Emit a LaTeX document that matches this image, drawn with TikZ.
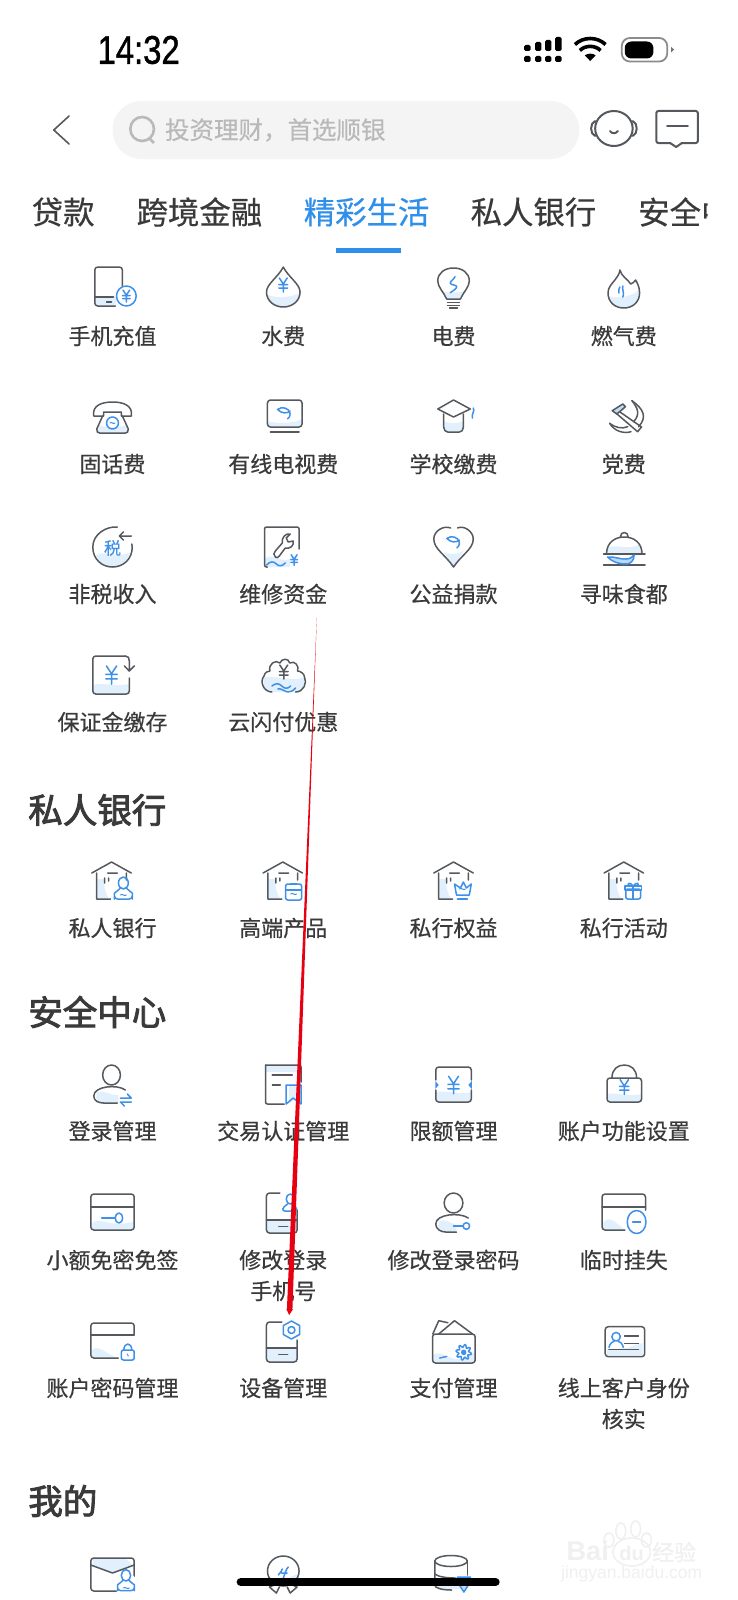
\documentclass[tikz,border=0pt]{standalone}
\usepackage{fontspec}
\setmainfont[FakeBold=0.5]{Noto Sans CJK SC}
\newfontfamily\headf[FakeBold=2.5]{Noto Sans CJK SC}
\newfontfamily\clockf[FakeBold=1.2]{Liberation Sans}
\newfontfamily\markf{Liberation Sans}
\usetikzlibrary{calc}
\definecolor{icgray}{HTML}{55595E}
\definecolor{icblue}{HTML}{3F90E8}
\definecolor{wave}{HTML}{E1F0FC}
\definecolor{txt}{HTML}{3A3A3A}
\definecolor{tabblue}{HTML}{2F8FEA}
\definecolor{hint}{HTML}{B9B9B9}
\definecolor{wmark}{HTML}{F0F0F0}
\definecolor{arrowred}{HTML}{E60012}
\tikzset{
 ic/.style={draw=icgray,line width=1.5pt,line cap=round,line join=round,fill=none},
 bl/.style={draw=icblue,line width=1.5pt,line cap=round,line join=round,fill=none},
 wv/.style={fill=wave,draw=none},
 lab/.style={inner sep=0pt,text=txt,font=\fontsize{22}{24}\selectfont},
 tabt/.style={inner sep=0pt,text=txt,font=\fontsize{31.4}{34}\selectfont},
 headt/.style={inner sep=0pt,anchor=west,text=txt,font=\headf\fontsize{34.5}{38}\selectfont},
}
\newcommand{\icn}[3]{\begin{scope}[shift={(#1,#2)}]#3\end{scope}}
\newcommand{\yenm}[4]{\begin{scope}[shift={(#1,#2)},scale=#3]
 \draw[#4] (-4,-7)--(0,-1)--(4,-7) (0,-1)--(0,7) (-4.5,-.5)--(4.5,-.5) (-4.5,3)--(4.5,3);\end{scope}}
\newcommand{\fishm}[3]{\begin{scope}[shift={(#1,#2)},scale=#3]
 \draw[bl] (-8,-3) .. controls (-3,-7) and (6,-5) .. (7,2) .. controls (7,5) and (6,7) .. (4,8)
 (-8,-3) .. controls (-3,2) and (3,2) .. (7,-1);\end{scope}}
\newcommand{\housem}{
 \fill[wv] (-15,-2) -- (-8,-2) .. controls (-7,8) and (-6,14) .. (-2,18) -- (-15,18) -- cycle;
 \draw[ic] (-20,-8)--(0,-19)--(20,-8) (-15,-8)--(-15,18)--(-1,18) (15,-8)--(15,-1) (-4,-8)--(6,-8) (-7,-3)--(-7,2) (-3,-3)--(-3,0);
}
\newcommand{\personb}[3]{\begin{scope}[shift={(#1,#2)},scale=#3]
 \draw[bl] (0,-7) ellipse [x radius=5,y radius=6];
 \draw[bl,rounded corners=3pt] (-3,-2) .. controls (-6,1) and (-9,3) .. (-9,6) -- (-9,9) -- (9,9) -- (9,6) .. controls (9,3) and (6,1) .. (3,-2);
 \end{scope}}
\begin{document}
\begin{tikzpicture}[x=0.987pt,y=-1pt]
\useasboundingbox (0,0) rectangle (747.72,1600);
\fill[white] (0,0) rectangle (747.72,1600);

% ---- status bar
\node[inner sep=0pt,xscale=.82,text=black,font=\clockf\fontsize{40}{42}\selectfont] (clock) at (140.5,50) {14:32};
\foreach \c/\t in {534.3/45,545.3/42,555.5/40,565.7/37}{
 \fill[black,rounded corners=1.5pt] (\c-3.2,\t) rectangle (\c+3.2,51);
 \fill[black,rounded corners=1.5pt] (\c-3.2,56) rectangle (\c+3.2,62);
}
\fill[black] (598,61) -- (592.5,55.5) .. controls (595,53) and (601,53) .. (603.5,55.5) -- cycle;
\draw[black,line width=3.6pt] (587.5,50.5) .. controls (593,45) and (603,45) .. (608.5,50.5);
\draw[black,line width=3.6pt] (582.5,44.5) .. controls (591,36.5) and (605,36.5) .. (613.5,44.5);
\draw[draw=black!45,line width=1.8pt,rounded corners=8pt] (630,38) rectangle (676,61.5);
\fill[black,rounded corners=6.5pt] (633,41.5) rectangle (662,58.5);
\fill[black!55] (680,47) -- (683,49.5) -- (680,52.5) -- cycle;

% ---- search bar
\draw[icgray,line width=1.6pt,line cap=round,line join=round] (70,116) -- (54.5,130) -- (70,144);
\fill[black!4.5,rounded corners=29pt] (114,101) rectangle (587,159);
\draw[draw=hint,line width=2.6pt] (144,129) circle [radius=12];
\draw[draw=hint,line width=2.6pt] (152,139) -- (156,143);
\node[inner sep=0pt,anchor=west,text=hint,font=\fontsize{24.5}{26}\selectfont] (hinttext) at (167,130) {投资理财，首选顺银};
\draw[ic,line width=2pt] (622,128.5) ellipse [x radius=19,y radius=17.5];
\draw[ic,line width=2pt] (603,121) .. controls (597.5,123) and (597.5,134) .. (603,136);
\draw[ic,line width=2pt] (641,121) .. controls (646.5,123) and (646.5,134) .. (641,136);
\draw[ic,line width=2pt] (618,131) .. controls (620,134) and (624,134) .. (626,131);
\draw[ic,line width=2pt,rounded corners=2pt] (665,111) rectangle (707,143);
\fill[white] (680,141) rectangle (690,145);
\draw[ic,line width=2pt] (679,143) -- (685,147) -- (691,143);
\draw[ic,line width=2pt] (676,126) -- (697,126);

% ---- tabs
\node[tabt] (tab1) at (64,212) {贷款};
\node[tabt] (tab2) at (202,212) {跨境金融};
\node[tabt,text=tabblue] (tab3) at (371.4,212) {精彩生活};
\node[tabt] (tab4) at (540.5,212) {私人银行};
\begin{scope}
 \clip (640,180) rectangle (717,240);
 \node[tabt,anchor=west] (tab5) at (646.5,212) {安全中};
\end{scope}
\fill[tabblue] (340,247.5) rectangle (406,252.5);

% ---- labels
\node[lab] (a1) at (114,336) {手机充值};
\node[lab] (a2) at (287,336) {水费};
\node[lab] (a3) at (459.5,336) {电费};
\node[lab] (a4) at (632,336) {燃气费};
\node[lab] (b1) at (114,464) {固话费};
\node[lab] (b2) at (287,464) {有线电视费};
\node[lab] (b3) at (459.5,464) {学校缴费};
\node[lab] (b4) at (632,464) {党费};
\node[lab] (c1) at (114,594) {非税收入};
\node[lab] (c2) at (287,594) {维修资金};
\node[lab] (c3) at (459.5,594) {公益捐款};
\node[lab] (c4) at (632,594) {寻味食都};
\node[lab] (d1) at (114,722) {保证金缴存};
\node[lab] (d2) at (287,722) {云闪付优惠};
\node[headt] (h1) at (28.5,810) {私人银行};
\node[lab] (e1) at (114,928) {私人银行};
\node[lab] (e2) at (287,928) {高端产品};
\node[lab] (e3) at (459.5,928) {私行权益};
\node[lab] (e4) at (632,928) {私行活动};
\node[headt] (h2) at (28.5,1012) {安全中心};
\node[lab] (f1) at (114,1131) {登录管理};
\node[lab] (f2) at (287,1131) {交易认证管理};
\node[lab] (f3) at (459.5,1131) {限额管理};
\node[lab] (f4) at (632,1131) {账户功能设置};
\node[lab] (g1) at (114,1260) {小额免密免签};
\node[lab] (g2) at (287,1260) {修改登录};
\node[lab] (g2b) at (287,1291) {手机号};
\node[lab] (g3) at (459.5,1260) {修改登录密码};
\node[lab] (g4) at (632,1260) {临时挂失};
\node[lab] (i1) at (114,1388) {账户密码管理};
\node[lab] (i2) at (287,1388) {设备管理};
\node[lab] (i3) at (459.5,1388) {支付管理};
\node[lab] (i4) at (632,1388) {线上客户身份};
\node[lab] (i4b) at (632,1419) {核实};
\node[headt] (h3) at (28.5,1501) {我的};

% ---- row 1
\icn{114}{287}{
 \fill[wv] (-18,10) rectangle (4,19);
 \draw[ic,rounded corners=3pt] (3,19) -- (-18,19) -- (-18,-20) -- (10,-20) -- (10,-1);
 \draw[ic] (-18,10) -- (1,10) (-6,15) -- (-1,15);
 \fill[white] (14,9) circle [radius=10];
 \draw[bl] (14,9) circle [radius=10];
 \yenm{14}{9}{.85}{bl}
}
\icn{287}{287}{
 \fill[wv] (-16.3,8) .. controls (-8,11) and (8,11) .. (16.3,6) .. controls (16,14) and (9,20) .. (0,20) .. controls (-9,20) and (-15,14) .. (-16.3,8);
 \draw[ic] (0,-20) .. controls (-5,-10) and (-17,-3) .. (-17,5) .. controls (-17,14) and (-9,20) .. (0,20) .. controls (9,20) and (17,14) .. (17,5) .. controls (17,-3) and (5,-10) .. (0,-20) -- cycle;
 \yenm{0}{-2}{1}{bl}
}
\icn{459.5}{287}{
 \fill[wv] (-12,4) .. controls (-5,6) and (5,6) .. (12,4) .. controls (10,7) and (8,9) .. (7,12) -- (-7,12) .. controls (-8,9) and (-10,7) .. (-12,4);
 \draw[ic] (-7,12) .. controls (-10,5) and (-16,0) .. (-16,-6) .. controls (-16,-14) and (-9,-19) .. (0,-19) .. controls (9,-19) and (16,-14) .. (16,-6) .. controls (16,0) and (10,5) .. (7,12) -- cycle;
 \draw[ic] (-6,15.7)--(6,15.7) (-6,18.3)--(6,18.3) (-4,21)--(4,21);
 \draw[bl] (1.5,-10.3) .. controls (0,-7) and (-3.5,-6) .. (-3.3,-3.7) .. controls (-3,-2) and (3.5,-2) .. (3.3,-.3) .. controls (3,2) and (-1,4) .. (-3.3,5.7);
}
\icn{632}{287}{
 \fill[wv] (-15.5,9) .. controls (-8,12) and (8,10) .. (15.5,3) .. controls (16,14) and (9,21) .. (0,21) .. controls (-9,21) and (-15,15) .. (-15.5,9);
 \draw[ic] (-4,-17) .. controls (-2,-10) and (4,-8) .. (7,-3) .. controls (9,-4) and (11,-5) .. (12,-7) .. controls (15,-2) and (16,2) .. (16,6) .. controls (16,15) and (9,21) .. (0,21) .. controls (-9,21) and (-16,15) .. (-16,6) .. controls (-16,0) and (-12,-3) .. (-9,-7) .. controls (-7,-10) and (-4,-13) .. (-4,-17) -- cycle;
 \draw[bl] (-1,-1) .. controls (-2,3) and (1,6) .. (-1,10) (-5,6) .. controls (-5,3) and (-5,1) .. (-4,0);
}
% ---- row 2
\icn{114}{417}{
 \fill[wv] (-14,8) .. controls (-6,11) and (6,11) .. (14,8) -- (16,16) -- (-16,16) -- cycle;
 \draw[ic] (-19,-1) .. controls (-21,-12) and (-10,-15) .. (0,-15) .. controls (10,-15) and (21,-12) .. (19,-1) -- (9,-1) -- (9,-5) -- (-9,-5) -- (-9,-1) -- cycle;
 \draw[ic] (-10,-1) -- (-16,12) .. controls (-16,15) and (-15,16) .. (-13,16) -- (13,16) .. controls (15,16) and (16,15) .. (16,12) -- (10,-1);
 \draw[bl] (0,6) circle [radius=6];
 \draw[bl,line width=1pt] (-2.5,6) .. controls (-1,4) and (1,8) .. (2.5,6);
}
\icn{288}{417}{
 \fill[wv] (-17,4) .. controls (-8,7) and (8,7) .. (18,2) -- (18,10) -- (-17,10) -- cycle;
 \draw[ic,rounded corners=3pt] (-17,-17) rectangle (18,10);
 \draw[ic] (-14,15) -- (15,15);
 \fishm{0}{-5}{.85}
}
\icn{459.5}{417}{
 \fill[wv] (-10,4) .. controls (-4,7) and (4,7) .. (10,4) -- (10,10) .. controls (10,13) and (8,15) .. (6,15) -- (-6,15) .. controls (-8,15) and (-10,13) .. (-10,10) -- cycle;
 \draw[ic] (-16,-8) -- (0,-17) -- (17,-8) -- (0,0) -- cycle;
 \draw[ic] (-10,-3) -- (-10,10) .. controls (-10,13) and (-8,15) .. (-6,15) -- (6,15) .. controls (8,15) and (10,13) .. (10,10) -- (10,-3);
 \draw[bl] (20,-9) .. controls (22,-6) and (18,-3) .. (19,1);
}
\icn{632}{417}{
 \fill[wave!80!icblue] (-11.7,-6.3) -- (-1,-13) -- (1.7,-10.3) -- (-7,-3) -- cycle;
 \draw[ic] (-11.7,-6.3) -- (-1,-13) -- (1.7,-10.3) -- (-7,-3) -- cycle;
 \draw[ic] (-4.3,-5.3) -- (18,10) -- (14,14.7) -- (-7.7,-3.7);
 \draw[ic] (8.3,-16.3) .. controls (20,-8) and (24,0) .. (15,9.7);
 \draw[ic] (8.3,-16.3) .. controls (14,-9) and (17,-3) .. (10,4.7);
 \draw[ic] (-14.3,6.3) .. controls (-10,14) and (0,17) .. (7.3,14.7);
 \draw[ic] (-14.3,6.3) .. controls (-8,11) and (-2,12) .. (4,9.7);
}
% ---- row 3
\icn{114}{547}{
 \fill[wv] (-17,8) .. controls (-8,3) and (8,12) .. (18,5) .. controls (15,15) and (8,20) .. (0,20) .. controls (-8,20) and (-15,15) .. (-17,8);
 \draw[ic] (5,-20) .. controls (-6,-21) and (-20,-13) .. (-20,0) .. controls (-20,12) and (-11,20) .. (0,20) .. controls (11,20) and (20,12) .. (20,0) -- (19.5,-3);
 \draw[ic] (19,-11) -- (7,-11) (11,-15) -- (7,-11) -- (11,-7);
 \node[inner sep=0pt,text=icblue,font=\fontsize{17}{18}\selectfont] (shui) at (0,1) {税};
}
\icn{286}{547}{
 \fill[wv] (-18,12) .. controls (-10,5) and (-2,16) .. (8,12) -- (8,20) -- (-18,20) -- cycle;
 \draw[ic,rounded corners=2pt] (-15,20) -- (-18,20) -- (-18,-20) -- (17,-20) -- (17,2);
 \draw[ic] (-7,10) .. controls (-9,8) and (-9,6) .. (-7,4) -- (0,-4) .. controls (-1,-9) and (3,-14) .. (8,-13) -- (4,-9) -- (6,-5) -- (11,-6) .. controls (12,-1) and (8,2) .. (3,1) -- (-3,9) .. controls (-4,11) and (-6,11) .. (-7,10) -- cycle;
 \yenm{12}{13}{.75}{bl}
 \draw[bl] (-16,18) .. controls (-12,14) and (-9,14) .. (-6,17) .. controls (-3,20) and (0,19) .. (3,16);
}
\icn{459.5}{547}{
 \fill[wv] (-10,5) .. controls (-4,8) and (4,8) .. (11,3) -- (0,19) -- cycle;
 \draw[ic] (-3,-19) .. controls (-10,-22) and (-20,-16) .. (-20,-8) .. controls (-20,2) and (-8,8) .. (0,20) .. controls (8,8) and (20,2) .. (20,-8) .. controls (20,-16) and (10,-22) .. (4,-19);
 \fishm{0}{-6}{.85}
}
\icn{632.5}{547}{
 \fill[wv] (-16,0) .. controls (-8,-3) and (6,4) .. (16,-3) -- (18,7) -- (-18,7) -- cycle;
 \draw[ic] (-18,7) .. controls (-18,-4) and (-10,-10) .. (0,-10) .. controls (10,-10) and (18,-4) .. (18,7);
 \draw[ic] (-4,-10) .. controls (-4,-16) and (4,-16) .. (4,-10);
 \draw[ic] (-21,7) -- (21,7) (-21,18) -- (21,18);
 \draw[bl,fill=icblue!35] (-17,10) .. controls (-10,9) and (-3,13) .. (2,12) .. controls (6,12) and (8,10) .. (10,8) .. controls (10,14) and (6,17) .. (2,17) .. controls (-6,17) and (-12,15) .. (-17,10);
}
% ---- row 4
\icn{114}{675}{
 \fill[wv] (-20,10) .. controls (-10,7) and (5,12) .. (17,9) -- (17,19) -- (-20,19) -- cycle;
 \draw[ic,rounded corners=3pt] (17,3) -- (17,19) -- (-20,19) -- (-20,-19) -- (13,-19);
 \draw[ic] (13,-19) .. controls (16,-19) and (17,-17) .. (17,-14) -- (17,-4) (12,-9) -- (17,-4) -- (22,-9);
 \yenm{-1}{0}{1.3}{bl}
}
\icn{287.5}{675}{
 \fill[wv] (-20,2) .. controls (-10,0) and (8,8) .. (21,2) .. controls (22,10) and (18,17) .. (12,17) -- (-12,17) .. controls (-18,17) and (-22,10) .. (-20,2);
 \draw[ic] (-12,17) .. controls (-20,17) and (-25,7) .. (-20,1) .. controls (-19,-3) and (-16,-4) .. (-14,-4) .. controls (-16,-11) and (-8,-16) .. (-4,-12) .. controls (-2,-17) and (5,-17) .. (6,-12) .. controls (11,-15) and (16,-9) .. (14,-4) .. controls (17,-4) and (21,-1) .. (21,2) .. controls (24,8) and (20,17) .. (12,17);
 \yenm{0}{-3}{1}{ic}
 \draw[bl] (-12,11) .. controls (-8,8) and (-5,8) .. (-2,11) .. controls (1,14) and (4,14) .. (7,11) (-6,14) .. controls (-3,13) and (0,16) .. (4,17) .. controls (7,17) and (9,16) .. (12,13);
}
% ---- row 5 houses
\icn{113}{881}{
 \housem
 \personb{12}{9}{1}
 \draw[bl,line width=1pt] (9,14) .. controls (11,12) and (13,16) .. (15,14);
}
\icn{286.5}{881}{
 \housem
 \draw[bl,rounded corners=2pt] (3,3) rectangle (19,19);
 \draw[bl] (3,9) -- (19,9) (8,3) -- (14,3);
 \draw[bl,line width=1pt] (8,13) .. controls (10,11) and (12,15) .. (14,13);
}
\icn{459.5}{881}{
 \housem
 \draw[bl] (1,3) -- (7,7) -- (10,1) -- (13,7) -- (18,3) -- (16,14) -- (3,14) -- cycle;
 \draw[bl] (4,18) -- (14,18);
 \draw[bl,line width=1pt] (6,8) .. controls (8,6) and (10,10) .. (12,8);
}
\icn{632}{881}{
 \housem
 \draw[bl,rounded corners=2pt] (2,8) rectangle (17,18);
 \draw[bl] (1,5) rectangle (18,9) (9.5,5) -- (9.5,18);
 \draw[bl] (9.5,5) .. controls (6,0) and (2,3) .. (6,5) (9.5,5) .. controls (13,0) and (17,3) .. (13,5);
}
% ---- row 6
\icn{113}{1084}{
 \fill[wv] (-14,8) .. controls (-8,6) and (0,12) .. (7,11) -- (7,19) -- (-8,19) .. controls (-14,19) and (-18,16) .. (-14,8);
 \draw[ic] (0,-9) ellipse [x radius=9,y radius=10];
 \draw[ic] (14,6) .. controls (6,0) and (-18,2) .. (-18,12) .. controls (-18,17) and (-13,19) .. (-8,19) -- (6,19);
 \draw[bl] (9,14) -- (20,14) -- (16,10) (20,18) -- (9,18) -- (13,22);
}
\icn{287}{1084}{
 \fill[wv] (-17,-19) rectangle (17,-12);
 \draw[ic,rounded corners=2pt] (-18,-19) -- (-18,20) -- (1,20);
 \draw[ic,rounded corners=2pt] (-18,-19) -- (18,-19) -- (18,-2);
 \draw[ic,line width=2pt] (-11,-9) -- (9,-9);
 \draw[ic] (-11,1) -- (-3,1);
 \fill[wv] (6,1) -- (17,1) -- (17,19) -- (12,15) -- (6,19) -- cycle;
 \draw[bl] (3,1) -- (18,1) -- (18,20) -- (10,14) -- (3,20) -- cycle;
}
\icn{459.5}{1084}{
 \fill[wv] (-18,8) .. controls (-8,6) and (6,11) .. (18,8) -- (18,17) -- (-18,17) -- cycle;
 \draw[ic,rounded corners=3pt] (-18,-4) -- (-18,-17) -- (18,-17) -- (18,-4);
 \draw[ic,rounded corners=3pt] (-18,6) -- (-18,18) -- (18,18) -- (18,6);
 \yenm{0}{1}{1.25}{bl}
 \fill[icblue] (-18.5,-3) -- (-15,1) -- (-18.5,5) -- cycle (18.5,-3) -- (15,1) -- (18.5,5) -- cycle;
}
\icn{632}{1084}{
 \fill[wv] (-17,10) .. controls (-8,8) and (6,13) .. (18,10) -- (18,18) -- (-17,18) -- cycle;
 \draw[ic,rounded corners=3pt] (-17,-6) rectangle (18,18);
 \draw[ic] (-12,-6) .. controls (-12,-15) and (-6,-19) .. (0.5,-19) .. controls (7,-19) and (13,-15) .. (13,-6);
 \yenm{0.5}{3}{1.05}{bl}
}
% ---- row 7
\icn{114}{1212}{
 \fill[wv] (-21,12) .. controls (-14,3) and (-6,16) .. (21,10) -- (21,18) -- (-21,18) -- cycle;
 \draw[ic,rounded corners=3pt] (-22,-18) rectangle (22,18);
 \draw[ic] (-22,-5) -- (22,-5);
 \draw[bl] (-11,6) -- (3,6);
 \draw[bl] (6.5,6) ellipse [x radius=3.8,y radius=5];
}
\icn{286.5}{1212}{
 \fill[wv] (-16.5,8) rectangle (14.5,21);
 \draw[ic,rounded corners=3pt] (-3,-19) -- (-16.5,-19) -- (-16.5,21) -- (14.5,21) -- (14.5,-2);
 \draw[ic] (-16.5,8) -- (14.5,8) (-4,14.5) -- (5,14.5);
 \draw[bl] (7.5,-13) ellipse [x radius=4,y radius=5];
 \draw[bl,rounded corners=2pt] (5,-8) .. controls (2,-6) and (0,-4) .. (0,-1) -- (14,-1) .. controls (14,-4) and (12,-6) .. (10,-8);
}
\icn{459.5}{1212}{
 \fill[wv] (-14,9) .. controls (-8,6) and (-2,12) .. (3,13) -- (3,20) -- (-8,20) .. controls (-14,20) and (-18,16) .. (-14,9);
 \draw[ic] (0,-9) ellipse [x radius=9.5,y radius=10];
 \draw[ic] (15,6) .. controls (6,0) and (-18,2) .. (-18,12) .. controls (-18,17) and (-13,20) .. (-8,20) -- (3,20);
 \draw[bl] (0,14) -- (10,14);
 \draw[bl] (13,14) circle [radius=3.3];
}
\icn{632}{1212}{
 \fill[wv] (-21,11) .. controls (-14,1) and (-6,14) .. (2,18) -- (-21,18) -- cycle;
 \draw[ic,rounded corners=3pt] (1,18) -- (-22,18) -- (-22,-18) -- (22,-18) -- (22,-2);
 \draw[ic] (-22,-5) -- (22,-5);
 \draw[bl] (13,10) ellipse [x radius=9.5,y radius=11.5];
 \draw[bl] (9,10) -- (17,10);
}
% ---- row 8
\icn{114}{1342}{
 \fill[wv] (-21,8) .. controls (-14,2) and (-6,12) .. (5,16) -- (-21,16) -- cycle;
 \draw[ic,rounded corners=3pt] (6,16) -- (-22,16) -- (-22,-19) -- (22,-19) -- (22,-8);
 \draw[ic] (-22,-7) -- (22,-7);
 \draw[bl,rounded corners=2pt] (9,8) rectangle (22,18);
 \draw[bl] (11.5,8) .. controls (11.5,0) and (19.5,0) .. (19.5,8);
 \draw[bl,line width=1pt] (15,12) -- (16,14);
}
\icn{286.5}{1342}{
 \fill[wv] (-16.5,6) rectangle (14.5,20);
 \draw[ic,rounded corners=3pt] (-1,-20) -- (-16.5,-20) -- (-16.5,20) -- (14.5,20) -- (14.5,-2);
 \draw[ic] (-16.5,6) -- (14.5,6) (-4,12.5) -- (5,12.5);
 \draw[bl] (8.8,-21) -- (17,-16.5) -- (17,-7.5) -- (8.8,-3) -- (.6,-7.5) -- (.6,-16.5) -- cycle;
 \draw[bl] (8.8,-12) circle [radius=3.5];
}
\icn{459.5}{1342}{
 \fill[wv] (-21,13) .. controls (-14,8) and (-6,16) .. (2,17) .. controls (8,18) and (15,14) .. (22,10) -- (22,21) -- (-21,21) -- cycle;
 \draw[ic] (-21,-8) -- (-15,-21.3) -- (-5.7,-19.3);
 \draw[ic] (-15,-8) -- (1,-21.3) -- (19.3,-8);
 \draw[ic,rounded corners=3pt] (-21.3,-8) rectangle (22,21);
 \begin{scope}[shift={(10.3,10.3)}]
  \draw[bl] plot[domain=0:360,samples=65] (\x:{6.4+1.5*sin(8*\x)}) -- cycle;
  \fill[icblue] (0,0) circle [radius=2.8];
 \end{scope}
 \draw[bl] (-14,16) -- (-7,14.5);
}
\icn{632}{1342}{
 \fill[wv] (-17,9) -- (-17,7) -- (4,6) .. controls (8,4) and (12,3) .. (19,1) -- (19,13) -- (-17,13) -- cycle;
 \draw[ic,rounded corners=3pt] (-18.8,-15.3) rectangle (21.2,14.7);
 \draw[bl] (-7.8,-5.3) circle [radius=4.3];
 \draw[bl] (-15,5.3) .. controls (-14,1) and (-11,-.5) .. (-9.5,-1) (-6,-1) .. controls (-3,-.5) and (-1.5,2) .. (-.5,5.3);
 \draw[ic] (.8,-6) -- (14.8,-6) (.8,1.3) -- (14.8,1.3) (-15,7.3) -- (14.8,7.3);
}
% ---- row 9
\icn{114}{1575}{
 \fill[wv] (-20,-16) -- (14,-16) -- (20,-10) -- (0,-2) -- (-20,-10) -- cycle;
 \draw[ic,rounded corners=3pt] (4,16) -- (-22,16) -- (-22,-17) -- (22,-17) -- (22,2);
 \draw[ic] (-22,-10) -- (0,-2) -- (22,-10);
 \fill[white] (14,9) circle [radius=11];
 \personb{13.6}{7}{.95}
 \draw[bl,line width=1pt] (11,13) .. controls (13,11) and (15,15) .. (17,13);
}
\icn{287}{1575}{
 \fill[wv] (-4,4) .. controls (3,6) and (10,0) .. (15,-1) .. controls (14,6) and (8,11) .. (0,11) -- cycle;
 \draw[ic] (0,-4) ellipse [x radius=16,y radius=15];
 \draw[ic] (-7,9) -- (-14,12) -- (-7,18) -- (-4,12);
 \draw[ic] (7,9) -- (14,12) -- (7,18) -- (4,12);
 \draw[bl] (-5,0) .. controls (-3,-3) and (-1,-4) .. (-1,-6) (0,3) .. controls (2,-2) and (3,-6) .. (5,-8) (-2,-2) -- (4,-2);
}
\icn{459.5}{1575}{
 \fill[wv] (-18,3) .. controls (-10,5) and (0,6) .. (7,3) -- (7,14) -- (-8,14) .. controls (-14,14) and (-17,12) .. (-18,10) -- cycle;
 \draw[ic] (-2.5,-14) ellipse [x radius=16.5,y radius=5.5];
 \draw[ic] (-19,-14) -- (-19,10) .. controls (-19,13) and (-12,15) .. (-2,15);
 \draw[ic] (14,-14) -- (14,0);
 \draw[ic] (-19,-1) .. controls (-15,2) and (-6,3) .. (2,3);
 \draw[bl,fill=icblue!35] (4,2) -- (17,2) -- (17,7) -- (10.5,17) -- (4,7) -- cycle;
}

% ---- watermark
\begin{scope}[shift={(8,0)}]
\node[inner sep=0pt,anchor=west,text=wmark,font=\markf\bfseries\fontsize{27}{28}\selectfont] (wm1) at (566,1551) {Bai};
\draw[wmark,line width=1.6pt] (632,1552) ellipse [x radius=19,y radius=14];
\draw[wmark,line width=1.6pt] (621,1531) ellipse [x radius=5,y radius=8];
\draw[wmark,line width=1.6pt] (636,1529) ellipse [x radius=5,y radius=8];
\draw[wmark,line width=1.6pt] (609,1540) ellipse [x radius=5,y radius=7];
\draw[wmark,line width=1.6pt] (647,1540) ellipse [x radius=5,y radius=7];
\node[inner sep=0pt,text=wmark,font=\markf\bfseries\fontsize{20}{21}\selectfont] (wm2) at (632,1553) {du};
\node[inner sep=0pt,text=wmark,font=\fontsize{22}{24}\selectfont] (wm3) at (675,1552) {经验};
\node[inner sep=0pt,text=wmark,font=\markf\fontsize{17.5}{19}\selectfont] (wm4) at (632,1574) {jingyan.baidu.com};
\end{scope}

% ---- red arrow
\coordinate (arrowtop) at (321,617);
\coordinate (arrowneck) at (293.5,1309);
\coordinate (arrowtip) at (293,1315);
\fill[arrowred] (arrowtop) -- ($(arrowneck)+(2.8,0)$) -- ($(arrowneck)+(-2.8,0)$) -- cycle;
\fill[arrowred] (arrowtip) -- ($(arrowneck)+(-3.4,0)$) -- ($(arrowneck)+(3.4,0)$) -- cycle;

% ---- home bar
\draw[black,line width=8.4pt,line cap=round] (244,1582) -- (502,1582);
\end{tikzpicture}
\end{document}
